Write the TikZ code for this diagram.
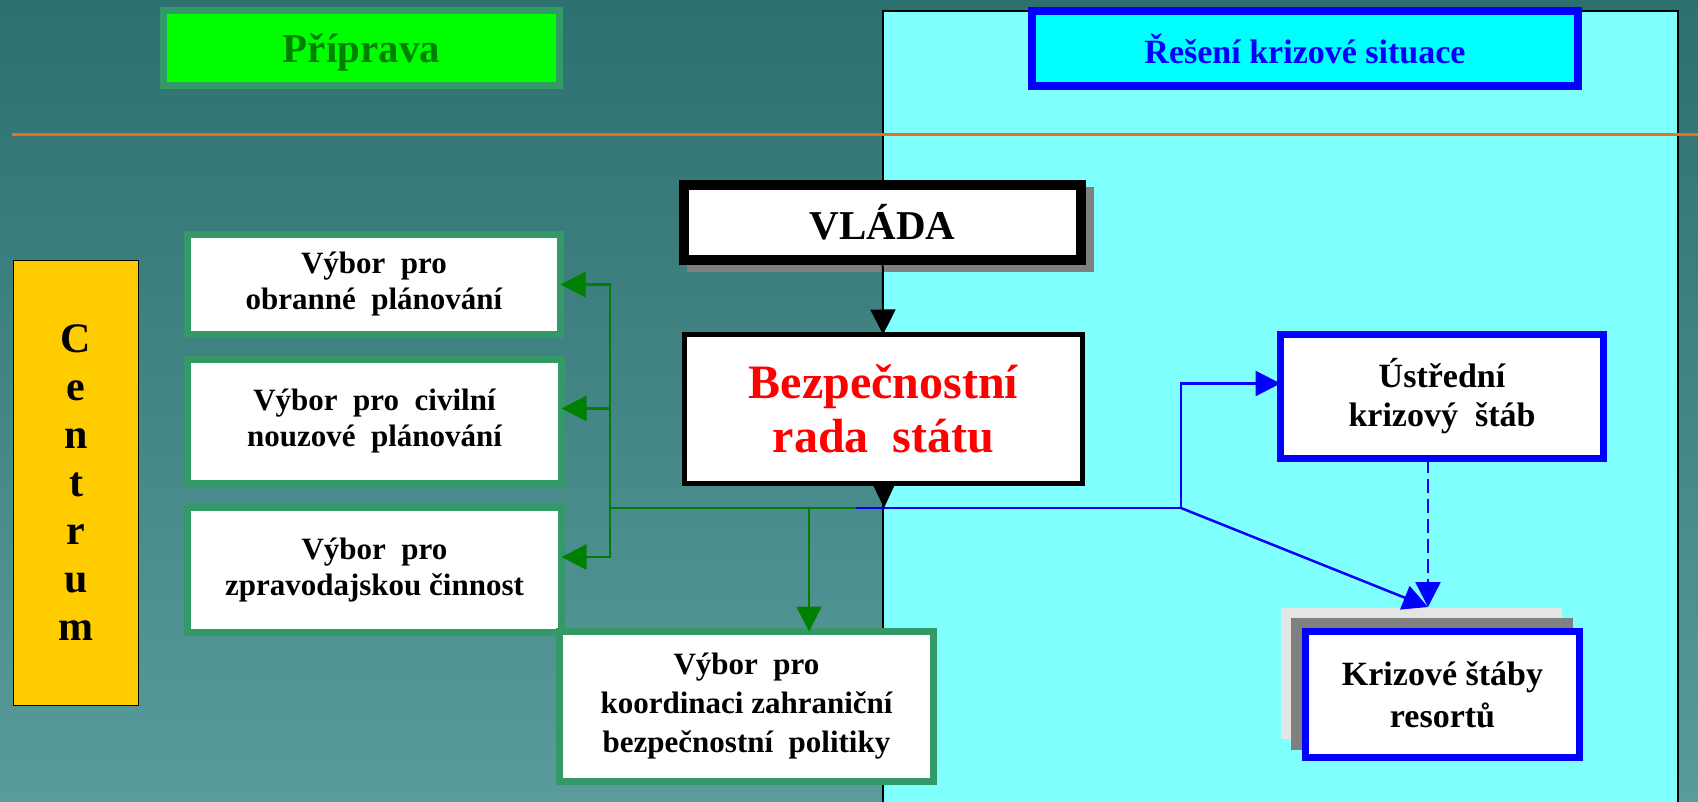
\documentclass[tikz,border=0pt]{standalone}
\usepackage{fontspec}
\setmainfont{Liberation Serif}
\usetikzlibrary{arrows.meta}
\definecolor{bgtop}{RGB}{45,112,112}
\definecolor{bgbottom}{RGB}{90,155,155}
\definecolor{panelcyan}{RGB}{128,255,255}
\definecolor{titlecyan}{RGB}{0,255,255}
\definecolor{titlegreen}{RGB}{0,255,0}
\definecolor{framegreen}{RGB}{51,153,102}
\definecolor{linegreen}{RGB}{0,128,0}
\definecolor{rulecolor}{RGB}{240,110,20}
\definecolor{centrumgold}{RGB}{255,204,0}
\begin{document}
\begin{tikzpicture}[x=1pt, y=-1pt,
    box/.style={draw, fill=white, outer sep=0pt, inner sep=0pt, align=center},
    vybor/.style={box, draw=framegreen, line width=7pt, minimum width=374pt, font=\bfseries\fontsize{31}{36}\selectfont},
    stabbox/.style={box, draw=blue, line width=7pt, font=\bfseries\fontsize{34}{39}\selectfont},
    arr/.style={-{Triangle[length=25pt,width=25pt]}},
    gline/.style={linegreen, line width=2.5pt},
    bline/.style={blue, line width=2.5pt}]
    \clip (0,0) rectangle (1698,802);
    \shade[top color=bgtop, bottom color=bgbottom] (0,0) rectangle (1698,802);
    \draw[fill=panelcyan, line width=2pt] (883,11) rectangle (1678,830);
    \draw[rulecolor, line width=3pt] (12,135) -- (1698,135);

    \node[box, draw=framegreen, fill=titlegreen, line width=7pt, minimum width=396pt, minimum height=75pt, text depth=0pt, text=linegreen, font=\bfseries\fontsize{41}{46}\selectfont] (priprava) at (361.5,48) {Příprava};
    \node[box, draw=blue, fill=titlecyan, line width=8pt, minimum width=546pt, minimum height=75pt, text=blue, font=\bfseries\fontsize{34}{40}\selectfont] (reseni) at (1305,48.5) {Řešení krizové situace};

    \node[box, fill=centrumgold, line width=1pt, minimum width=125pt, minimum height=445pt, font=\bfseries\fontsize{42}{48}\selectfont] (centrum) at (76,483) {C\\e\\n\\t\\r\\u\\m};

    \fill[gray] (687,187) rectangle (1094,272);
    \node[box, line width=10pt, minimum width=397pt, minimum height=75pt, font=\bfseries\fontsize{41}{46}\selectfont] (vlada) at (882.5,222.5) {VLÁDA};
    \node[box, line width=5pt, minimum width=398pt, minimum height=149pt, text=red, font=\bfseries\fontsize{48}{54}\selectfont] (bezpecnost) at (883.5,409) {Bezpečnostní\\rada~~státu};

    \node[vybor, minimum width=373pt, minimum height=100pt] (obrana) at (374,284.5) {Výbor~~pro\\obranné~~plánování};
    \node[vybor, minimum height=124pt] (civil) at (374.5,421.5) {Výbor~~pro~~civilní\\nouzové~~plánování};
    \node[vybor, minimum height=125pt] (zprav) at (374.5,570) {Výbor~~pro\\zpravodajskou činnost};
    \node[vybor, minimum height=150pt, font=\bfseries\fontsize{31}{39}\selectfont] (koord) at (746.5,706.5) {Výbor~~pro\\koordinaci zahraniční\\bezpečnostní~~politiky};

    \node[stabbox, minimum width=323pt, minimum height=124pt] (ustredni) at (1442,396.5) {Ústřední\\krizový~~štáb};
    \fill[gray!20] (1281,608) rectangle (1562,739);
    \fill[gray] (1291,618) rectangle (1573,750);
    \node[stabbox, minimum width=274pt, minimum height=126pt, font=\bfseries\fontsize{34}{42}\selectfont] (resorty) at (1442.5,694.5) {Krizové štáby\\resortů};

    \coordinate (gbus) at (610,508);
    \coordinate (split) at (856,508);
    \coordinate (kdrop) at (809,508);
    \coordinate (bjoin) at (884,508);
    \coordinate (bfork) at (1181,508);
    \coordinate (stabtop) at (1428,607);

    \draw[arr, line width=2pt] (vlada) -- (bezpecnost);
    \draw[-{Triangle[length=25pt,width=23pt]}, line width=2pt] (bezpecnost) -- (bjoin);

    \draw[gline] (split) -- (gbus);
    \draw[gline, arr] (gbus) |- (obrana);
    \draw[gline, arr] (gbus) |- ([yshift=13pt]civil.east);
    \draw[gline, arr] (gbus) |- ([yshift=13pt]zprav.east);
    \draw[gline, arr] (kdrop) -- (kdrop |- koord.north);

    \draw[bline] (split) -- (bfork);
    \draw[bline, arr] (bfork) |- ([yshift=13pt]ustredni.west);
    \draw[bline, arr] (bfork) -- (stabtop);
    \draw[bline, arr, dash pattern=on 14pt off 6pt] (ustredni.south -| stabtop) -- (stabtop);
\end{tikzpicture}
\end{document}
